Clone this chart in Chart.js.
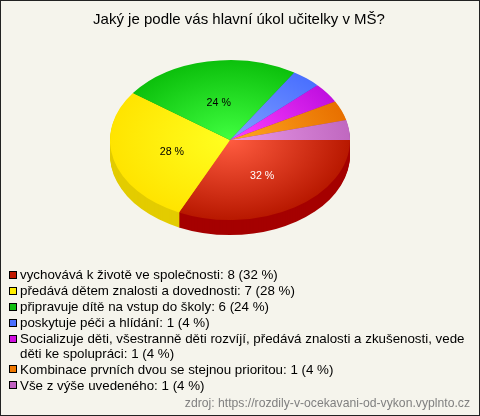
<!DOCTYPE html>
<html>
<head>
<meta charset="utf-8">
<style>
  html, body { margin: 0; padding: 0; background: #f5f4ec; }
  canvas { display: block; }
</style>
<script src="https://cdn.jsdelivr.net/npm/chart.js@4"></script>
</head>
<body>
<canvas id="pieChart" width="480" height="416"></canvas>
<script>
// Values
const titleText = "Jaký je podle vás hlavní úkol učitelky v MŠ?";
const sourceText = "zdroj: https://rozdily-v-ocekavani-od-vykon.vyplnto.cz";
const answers = [
  "vychovává k životě ve společnosti",
  "předává dětem znalosti a dovednosti",
  "připravuje dítě na vstup do školy",
  "poskytuje péči a hlídání",
  "Socializuje děti, všestranně děti rozvíjí, předává znalosti a zkušenosti, vede děti ke spolupráci",
  "Kombinace prvních dvou se stejnou prioritou",
  "Vše z výše uvedeného",
];
const votes = [8, 7, 6, 1, 1, 1, 1];
const percents = [32, 28, 24, 4, 4, 4, 4];
const sliceInner = ["#ff5c40", "#ffff20", "#40ff40", "#80a0ff", "#ff40ff", "#ffa820", "#e898e8"];
const sliceOuter = ["#b81800", "#ffe400", "#0cc00c", "#4a70ff", "#c010e0", "#e87000", "#c068c0"];
const sliceSide = ["#a50000", "#e3cc00", "#0a900a", "#3850c0", "#9010a8", "#b05400", "#905090"];
const keyColors = ["#c01800", "#ffee00", "#10c010", "#4a70ff", "#d010e0", "#f07800", "#c060c0"];

const squash = 2 / 3;
const pieDepth = 15;

// Legend lines, long answer is broken the same way as on the picture
const legendLines = answers.map((a, i) => `${a}: ${votes[i]} (${percents[i]} %)`);

function pieGradient(context) {
  const ctx = context.chart.ctx;
  const area = context.chart.chartArea;
  if (!area) return sliceOuter[context.dataIndex];
  const cx = (area.left + area.right) / 2;
  const cy = (area.top + area.bottom) / 2;
  const r = Math.min(area.width, area.height) / 2;
  const g = ctx.createRadialGradient(cx, cy, 0, cx, cy, r);
  g.addColorStop(0, sliceInner[context.dataIndex]);
  g.addColorStop(1, sliceOuter[context.dataIndex]);
  return g;
}

const squashedPie = {
  id: "squashedPie",
  beforeDatasetsDraw(chart) {
    const ctx = chart.ctx;
    const arcs = chart.getDatasetMeta(0).data;
    const cy = arcs[0].y;
    for (let d = pieDepth; d > 0; d--) {
      arcs.forEach((arc, i) => {
        ctx.save();
        ctx.translate(0, cy + d);
        ctx.scale(1, squash);
        ctx.translate(0, -cy);
        ctx.fillStyle = sliceSide[i];
        ctx.beginPath();
        ctx.moveTo(arc.x, arc.y);
        ctx.arc(arc.x, arc.y, arc.outerRadius, arc.startAngle, arc.endAngle);
        ctx.closePath();
        ctx.fill();
        ctx.restore();
      });
    }
    ctx.save();
    ctx.translate(0, cy);
    ctx.scale(1, squash);
    ctx.translate(0, -cy);
  },
  afterDatasetsDraw(chart) {
    const ctx = chart.ctx;
    ctx.restore();
    const arcs = chart.getDatasetMeta(0).data;
    const cy = arcs[0].y;
    ctx.save();
    ctx.font = "10.67px 'Liberation Sans'";
    ctx.textAlign = "center";
    ctx.textBaseline = "middle";
    percents.forEach((p, i) => {
      if (p < 10) return;
      const pos = arcs[i].getCenterPoint();
      ctx.fillStyle = i === 0 ? "#ffffff" : "#000000";
      ctx.fillText(`${p} %`, pos.x, cy + (pos.y - cy) * squash + 2);
    });
    ctx.restore();
  },
};

const legendAndFrame = {
  id: "legendAndFrame",
  afterDraw(chart) {
    const ctx = chart.ctx;
    ctx.save();
    ctx.fillStyle = "#000000";
    ctx.font = "15px 'Liberation Sans'";
    ctx.textAlign = "center";
    ctx.textBaseline = "middle";
    ctx.fillText(titleText, 239, 20);

    ctx.textAlign = "left";
    ctx.font = "13.33px 'Liberation Sans'";
    let y = 274.5;
    legendLines.forEach((line, i) => {
      const box = Math.round(y) - 4;
      ctx.fillStyle = keyColors[i];
      ctx.fillRect(9.5, box + 0.5, 7, 7);
      ctx.strokeStyle = "#000000";
      ctx.lineWidth = 1;
      ctx.strokeRect(9.5, box + 0.5, 7, 7);
      ctx.fillStyle = "#000000";
      const breakAt = line.indexOf("děti ke");
      if (breakAt > 0) {
        ctx.fillText(line.slice(0, breakAt).trim(), 20, y + 1);
        y += 14.5;
        ctx.fillText(line.slice(breakAt), 20, y + 1);
      } else {
        ctx.fillText(line, 20, y + 1);
      }
      y += 16;
    });
    ctx.fillStyle = "#808080";
    ctx.font = "12.2px 'Liberation Sans'";
    ctx.textAlign = "right";
    ctx.fillText(sourceText, 470, 404);
    ctx.strokeStyle = "#222222";
    ctx.strokeRect(0.5, 0.5, 479, 415);
    ctx.restore();
  },
};

new Chart(document.getElementById("pieChart"), {
  type: "pie",
  data: {
    labels: answers,
    datasets: [{ data: votes, backgroundColor: pieGradient, borderWidth: 0 }],
  },
  options: {
    responsive: false,
    animation: false,
    rotation: 90,
    layout: { padding: { left: 110, right: 130, top: 20, bottom: 156 } },
    plugins: {
      legend: { display: false },
      tooltip: { enabled: false },
    },
  },
  plugins: [squashedPie, legendAndFrame],
});
</script>
</body>
</html>
